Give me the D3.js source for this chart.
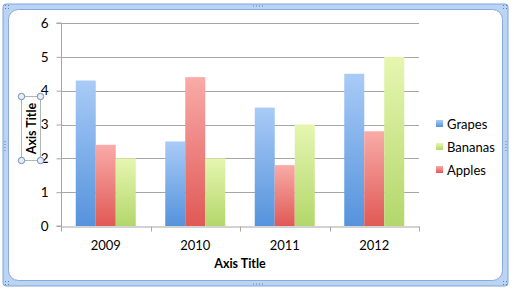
<!DOCTYPE html>
<html>
<head>
<meta charset="utf-8">
<script src="https://cdn.jsdelivr.net/npm/d3@7"></script>
<style>
  body { margin: 0; background: #fff; }
  text { font-family: Lato, "Open Sans", sans-serif; fill: #000; }
</style>
</head>
<body>
<div id="viz"></div>
<script>
var years = ["2009", "2010", "2011", "2012"];
var seriesNames = ["Grapes", "Apples", "Bananas"];
var legendOrder = ["Grapes", "Bananas", "Apples"];
var grapes = [4.3, 2.5, 3.5, 4.5];
var apples = [2.4, 4.4, 1.8, 2.8];
var bananas = [2.0, 2.0, 3.0, 5.0];
var yTicks = [0, 1, 2, 3, 4, 5, 6];

var values = { Grapes: grapes, Apples: apples, Bananas: bananas };
var colors = {
  Grapes: ["#a9cbf7", "#5593dc"],
  Apples: ["#f9aba8", "#e05955"],
  Bananas: ["#e6f6b0", "#b3d76b"]
};

var width = 514, height = 293;
// plot area edges (note: "top" is taken by window.top)
var plotLeft = 61, plotRight = 419, plotTop = 23, plotBottom = 226;

var svg = d3.select("#viz")
  .append("svg")
    .attr("width", width)
    .attr("height", height);

var defs = svg.append("defs");
seriesNames.forEach(function(s) {
  var g = defs.append("linearGradient")
      .attr("id", "grad-" + s)
      .attr("x1", 0).attr("y1", 0).attr("x2", 0).attr("y2", 1);
  g.append("stop").attr("offset", "0%").attr("stop-color", colors[s][0]);
  g.append("stop").attr("offset", "100%").attr("stop-color", colors[s][1]);
});

// frame
svg.append("rect")
    .attr("x", 3).attr("y", 4)
    .attr("width", 505).attr("height", 282)
    .attr("rx", 3)
    .style("fill", "#bcd4f4")
    .style("stroke", "#7fa5d8")
    .style("stroke-width", 1);
svg.append("rect")
    .attr("x", 8.5).attr("y", 9.5)
    .attr("width", 494).attr("height", 271)
    .attr("rx", 10)
    .style("fill", "#fff")
    .style("stroke", "#87a9db")
    .style("stroke-width", 1);

// grip dots on the frame
var grips = [
  [258, 6, "h"], [258, 284, "h"], [5, 146, "v"], [506, 146, "v"],
  [7, 7, "c"], [505, 7, "c"], [7, 283, "c"], [505, 283, "c"]
];
grips.forEach(function(gp) {
  var pts = gp[2] === "h" ? [[-4.5, 0], [-1.5, 0], [1.5, 0], [4.5, 0]]
          : gp[2] === "v" ? [[0, -4.5], [0, -1.5], [0, 1.5], [0, 4.5]]
          : [[-1.5, -1.5], [1.5, -1.5], [-1.5, 1.5], [1.5, 1.5]];
  svg.selectAll(null).data(pts).enter().append("rect")
      .attr("x", function(d) { return gp[0] + d[0] - 0.5; })
      .attr("y", function(d) { return gp[1] + d[1] - 0.5; })
      .attr("width", 1).attr("height", 1)
      .style("fill", "#5c7faf");
});

var x = d3.scaleBand().domain(years).range([plotLeft, plotRight]);
var xInner = d3.scaleBand().domain(seriesNames)
    .range([0, 60]);
var y = d3.scaleLinear().domain([0, 6]).range([plotBottom, plotTop]);

// gridlines
svg.append("g").selectAll("line")
  .data(yTicks.slice(1))
  .enter().append("line")
    .attr("x1", plotLeft).attr("x2", plotRight)
    .attr("y1", function(d) { return Math.round(y(d)) + 0.5; })
    .attr("y2", function(d) { return Math.round(y(d)) + 0.5; })
    .style("stroke", "#a6a6a6");

// bars
years.forEach(function(yr, i) {
  var off = (x.bandwidth() - 60) / 2;
  svg.append("g").selectAll("rect")
    .data(seriesNames)
    .enter().append("rect")
      .attr("x", function(s) { return x(yr) + off + xInner(s); })
      .attr("y", function(s) { return y(values[s][i]); })
      .attr("width", xInner.bandwidth())
      .attr("height", function(s) { return plotBottom - y(values[s][i]); })
      .style("fill", function(s) { return "url(#grad-" + s + ")"; });
});

// y axis
var yAxis = svg.append("g")
    .attr("transform", "translate(" + (plotLeft + 0.5) + ",0)")
    .call(d3.axisLeft(y).tickValues(yTicks).tickSize(5).tickPadding(8).tickFormat(d3.format("d")));
yAxis.select(".domain").attr("stroke", "#a6a6a6").attr("d", "M-5," + plotTop + "H0V" + plotBottom + "H-5");
yAxis.selectAll(".tick line").attr("stroke", "#a6a6a6");
yAxis.selectAll(".tick text").style("font-size", "13.5px").style("font-family", "Lato, sans-serif");

// x axis
var xAxis = svg.append("g")
    .attr("transform", "translate(0," + (plotBottom + 0.5) + ")")
    .call(d3.axisBottom(x).tickSize(0).tickPadding(14));
xAxis.select(".domain").attr("stroke", "#a6a6a6");
xAxis.selectAll(".tick text").style("font-size", "13px").style("font-family", "Lato, sans-serif");
xAxis.selectAll(".boundary")
  .data(years.concat(["end"]))
  .enter().append("line")
    .attr("x1", function(d, i) { return Math.round(plotLeft + i * x.bandwidth()) + 0.5; })
    .attr("x2", function(d, i) { return Math.round(plotLeft + i * x.bandwidth()) + 0.5; })
    .attr("y1", 0).attr("y2", 5)
    .attr("stroke", "#a6a6a6");

// axis titles
svg.append("text")
    .attr("x", (plotLeft + plotRight) / 2)
    .attr("y", 268)
    .attr("text-anchor", "middle")
    .style("font-size", "12.5px")
    .style("font-weight", "bold")
    .text("Axis Title");

var ytG = svg.append("g");
ytG.append("rect")
    .attr("x", 21.5).attr("y", 96.5)
    .attr("width", 19).attr("height", 64)
    .style("fill", "none")
    .style("stroke", "#b5b5b5");
ytG.append("text")
    .attr("transform", "translate(36,128.5) rotate(-90)")
    .attr("text-anchor", "middle")
    .style("font-size", "12.5px")
    .style("font-weight", "bold")
    .text("Axis Title");
ytG.selectAll("circle")
  .data([[21.5, 96.5], [40.5, 96.5], [21.5, 160.5], [40.5, 160.5]])
  .enter().append("circle")
    .attr("cx", function(d) { return d[0]; })
    .attr("cy", function(d) { return d[1]; })
    .attr("r", 3.2)
    .style("fill", "#e6eff9")
    .style("stroke", "#6e8db5");

// legend
var legend = svg.append("g").selectAll("g")
  .data(legendOrder)
  .enter().append("g")
    .attr("transform", function(d, i) { return "translate(436," + (120 + i * 23) + ")"; });
legend.append("rect")
    .attr("width", 7).attr("height", 7)
    .style("fill", function(d) { return "url(#grad-" + d + ")"; });
legend.append("text")
    .attr("x", 11)
    .attr("y", 8.5)
    .style("font-size", "13px")
    .text(function(d) { return d; });
</script>
</body>
</html>
